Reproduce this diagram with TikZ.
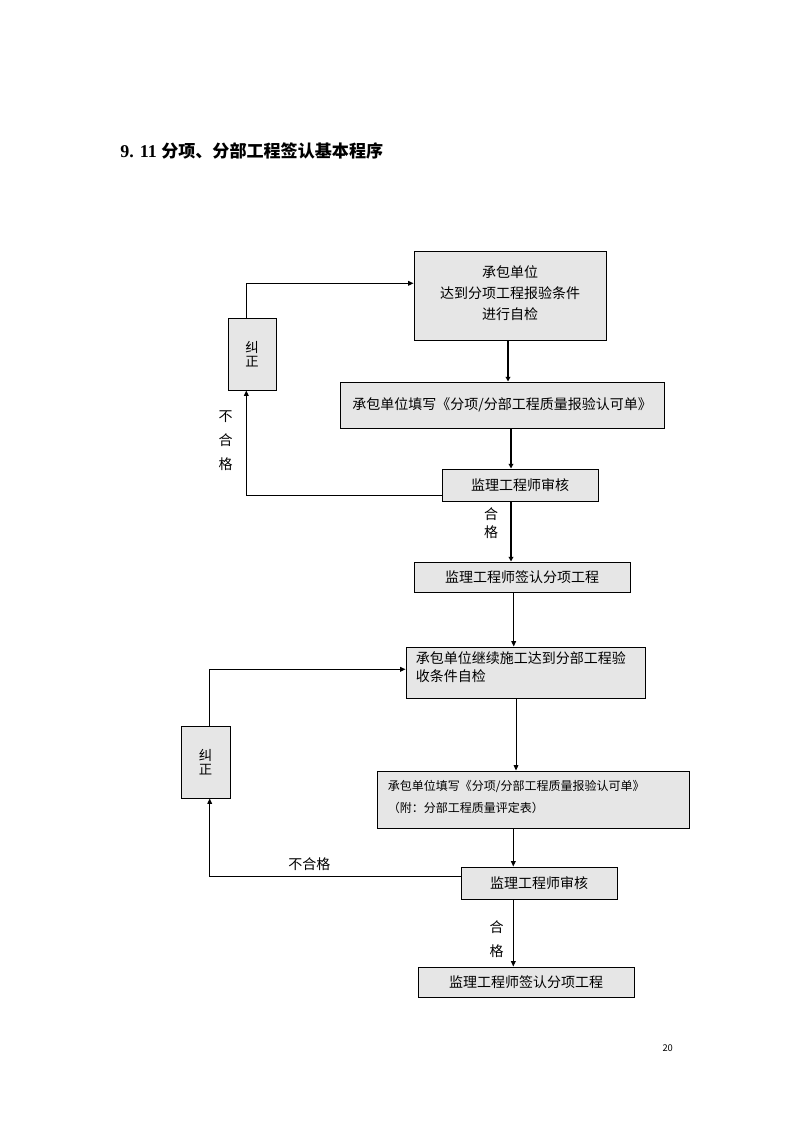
\documentclass[tikz,border=0pt]{standalone}
\usepackage{fontspec}
\newfontfamily\cjk{Noto Sans CJK SC}
\newfontfamily\serifb{Liberation Serif}
\usetikzlibrary{arrows.meta,calc}
\definecolor{boxgray}{RGB}{230,230,230}
\begin{document}
\begin{tikzpicture}[x=0.75pt,y=-0.75pt,
  box/.style={draw=black, line width=0.75pt, fill=boxgray, inner sep=0pt, align=center,
    font=\cjk\fontsize{10.5pt}{16pt}\selectfont},
  sz/.style 2 args={minimum width=#1*0.75pt, minimum height=#2*0.75pt},
  txt/.style={inner sep=0pt, align=center, font=\cjk\fontsize{10.5pt}{13pt}\selectfont},
  thk/.style={line width=1.5pt, -{Triangle[length=3.5pt,width=3.5pt]}},
  thn/.style={line width=0.75pt, -{Triangle[length=4pt,width=3.5pt]}}]
\useasboundingbox (0,0) rectangle (794,1123);
\fill[white] (0,0) rectangle (794,1123);

\node[anchor=west, inner sep=0pt, font=\cjk\bfseries\fontsize{12.8pt}{16pt}\selectfont] (title) at (120,151) {{\serifb\bfseries\fontsize{13.5pt}{16pt}\selectfont 9. 11 }分项、分部工程签认基本程序};

\node[box, sz={192}{89}] (b1) at (510,295.5) {承包单位\\达到分项工程报验条件\\进行自检\\[-11.5pt]};
\node[box, sz={324}{46}] (b2) at (502,405) {承包单位填写《分项/分部工程质量报验认可单》};
\node[box, sz={156}{32}] (b3) at (520,485) {监理工程师审核};
\node[box, sz={216}{30}] (b4) at (522,577) {监理工程师签认分项工程};
\node[box, sz={239}{51}] (b5) at (525.5,672.5) {};
\node[txt, anchor=north west, align=left, font=\cjk\fontsize{10.5pt}{13.8pt}\selectfont] (b5t) at (415.5,651) {承包单位继续施工达到分部工程验\\收条件自检};
\node[box, sz={312}{57}] (b6) at (533,799.5) {};
\node[txt, anchor=north west, align=left, font=\cjk\fontsize{9pt}{16.7pt}\selectfont] (b6t) at (387.7,780) {承包单位填写《分项/分部工程质量报验认可单》\\（附：分部工程质量评定表）};
\node[box, sz={156}{32}] (b7) at (539,883) {监理工程师审核};
\node[box, sz={216}{30}] (b8) at (526,982) {监理工程师签认分项工程};

\node[box, sz={48}{72}, font=\cjk\fontsize{10pt}{10pt}\selectfont] (j1) at (252,354) {纠\\正};
\node[box, sz={49}{72}, font=\cjk\fontsize{10pt}{10pt}\selectfont] (j2) at (205.5,762) {纠\\正};

\node[txt, font=\cjk\fontsize{10.5pt}{18pt}\selectfont] (l1) at (225.7,441) {不\\合\\格};
\node[txt, font=\cjk\fontsize{10.5pt}{13.5pt}\selectfont] (l2) at (491,523) {合\\格};
\node[txt, font=\cjk\fontsize{10.5pt}{17.5pt}\selectfont] (l3) at (496.7,939) {合\\格};
\node[txt] (l4) at (309.3,864) {不合格};
\node[inner sep=0pt, font=\cjk\fontsize{7pt}{8pt}\selectfont] (pg) at (667.7,1048.5) {20};

\coordinate (c1) at ($(b1.south)+(-2,0)$);
\draw[thk] (c1) -- (c1 |- b2.north);
\coordinate (c2) at ($(b2.south)+(9,0)$);
\draw[thk] (c2) -- (c2 |- b3.north);
\coordinate (c3) at ($(b3.south)+(-9,0)$);
\draw[thk] (c3) -- (c3 |- b4.north);
\coordinate (c4) at ($(b4.south)+(-8.3,0)$);
\draw[thn] (c4) -- (c4 |- b5.north);
\coordinate (c5) at ($(b5.south)+(-9.5,0)$);
\draw[thn] (c5) -- (c5 |- b6.north);
\coordinate (c6) at ($(b6.south)+(-19.7,0)$);
\draw[thn] (c6) -- (c6 |- b7.north);
\coordinate (c7) at ($(b7.south)+(-25.7,0)$);
\draw[thn] (c7) -- (c7 |- b8.north);

\coordinate (f1) at ($(b3.west)+(0,10)$);
\draw[thn] (f1) -| ($(j1.south)+(-5.7,0)$);
\draw[thn] ($(j1.north)+(-5.7,0)$) |- ($(b1.west)+(0,-12.2)$);
\coordinate (f2) at ($(b7.west)+(0,-6.3)$);
\draw[thn] (f2) -| ($(j2.south)+(4.2,0)$);
\draw[thn] ($(j2.north)+(4.2,0)$) |- ($(b5.west)+(0,-3.2)$);
\end{tikzpicture}
\end{document}
